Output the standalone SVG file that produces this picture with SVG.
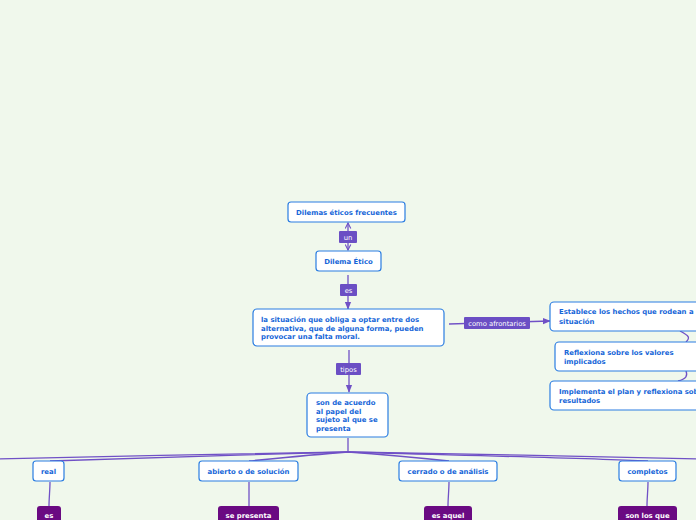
<svg xmlns="http://www.w3.org/2000/svg" width="696" height="520" viewBox="0 0 696 520">
<style>
.n{fill:#ffffff;stroke:#2a7de1;stroke-width:1.2}
.t{font-family:"DejaVu Sans",Verdana,sans-serif;font-size:6.9px;font-weight:bold;fill:#1565d8}
.lb{fill:#6b4fc4}
.lt{font-family:"DejaVu Sans",Verdana,sans-serif;font-size:6.8px;fill:#ffffff}
.p{fill:#6a0a82}
.pt{font-family:"DejaVu Sans",Verdana,sans-serif;font-size:6.9px;font-weight:bold;fill:#ffffff}
.c{fill:none;stroke:#7051c6;stroke-width:1.3}
</style>
<defs>
<marker id="a" viewBox="0 0 10 10" refX="9" refY="5" markerWidth="7" markerHeight="7" orient="auto-start-reverse" markerUnits="userSpaceOnUse">
<path d="M1,1 L9,5 L1,9" fill="none" stroke="#7051c6" stroke-width="1.6"/>
</marker>
<marker id="f" viewBox="0 0 10 10" refX="9" refY="5" markerWidth="8" markerHeight="8" orient="auto" markerUnits="userSpaceOnUse">
<path d="M0,1 L10,5 L0,9 Z" fill="#7051c6"/>
</marker>
</defs>
<rect width="696" height="520" fill="#f0f8ec"/>
<g id="connectors">
<path class="c" d="M348,250 L348,223" marker-start="url(#a)" marker-end="url(#a)"/>
<path class="c" d="M348,275 L348,309" marker-end="url(#f)"/>
<path class="c" d="M349,350 L349,392" marker-end="url(#f)"/>
<path class="c" d="M449,324 L550,321" marker-end="url(#f)"/>
<path class="c" d="M348,438 L348,452"/>
<path class="c" stroke-width="2" d="M348,452 C250,454 100,456 -5,459"/>
<path class="c" d="M348,452 C250,455 120,458 50,461"/>
<path class="c" d="M348,452 C310,455 280,458 249,461"/>
<path class="c" d="M348,452 C390,455 420,458 449,461"/>
<path class="c" d="M348,452 C450,455 580,458 648,461"/>
<path class="c" stroke-width="2" d="M348,452 C450,454 600,456 701,459"/>
<path class="c" d="M50,482 C50,490 49,498 49,506"/>
<path class="c" d="M249,482 L249,506"/>
<path class="c" d="M449,482 C449,490 448,498 448,506"/>
<path class="c" d="M648,482 C648,490 647,498 647,506"/>
<path class="c" d="M680,331 C690,336 690,338 686,342"/>
<path class="c" d="M686,371 C688,376 686,379 678,381"/>
</g>
<g id="lbl-un"><rect class="lb" x="339" y="231" width="18" height="12" rx="1"/><text class="lt" x="348" y="239.5" text-anchor="middle">un</text></g>
<g id="lbl-es"><rect class="lb" x="340" y="284" width="17" height="12" rx="1"/><text class="lt" x="348.5" y="292.5" text-anchor="middle">es</text></g>
<g id="lbl-tipos"><rect class="lb" x="336" y="363" width="25" height="12" rx="1"/><text class="lt" x="348.5" y="371.5" text-anchor="middle">tipos</text></g>
<g id="lbl-como"><rect class="lb" x="464" y="317" width="66" height="12" rx="1"/><text class="lt" x="497" y="325.5" text-anchor="middle">como afrontarios</text></g>
<g id="n-dilemas"><rect class="n" x="288" y="202" width="117" height="20" rx="3"/><text class="t" x="346.5" y="214.5" text-anchor="middle">Dilemas éticos frecuentes</text></g>
<g id="n-dilema"><rect class="n" x="316" y="251" width="65" height="20" rx="3"/><text class="t" x="348.5" y="263.5" text-anchor="middle">Dilema Ético</text></g>
<g id="n-situacion"><rect class="n" x="253" y="309" width="191" height="37" rx="4"/>
<text class="t" x="261" y="322">la situación que obliga a optar entre dos</text>
<text class="t" x="261" y="330.5">alternativa, que de alguna forma, pueden</text>
<text class="t" x="261" y="339">provocar una falta moral.</text></g>
<g id="n-tipos"><rect class="n" x="307" y="393" width="81" height="44" rx="4"/>
<text class="t" x="316" y="405">son de acuerdo</text>
<text class="t" x="316" y="413.5">al papel del</text>
<text class="t" x="316" y="422">sujeto al que se</text>
<text class="t" x="316" y="430.5">presenta</text></g>
<g id="n-establece"><rect class="n" x="550" y="302" width="152" height="29" rx="4"/>
<text class="t" x="559" y="314">Establece los hechos que rodean a</text>
<text class="t" x="559" y="323.5">situación</text></g>
<g id="n-reflexiona"><rect class="n" x="555" y="342" width="147" height="29" rx="4"/>
<text class="t" x="564" y="354.5">Reflexiona sobre los valores</text>
<text class="t" x="564" y="364">implicados</text></g>
<g id="n-implementa"><rect class="n" x="550" y="381" width="152" height="29" rx="4"/>
<text class="t" x="559" y="393.5">Implementa el plan y reflexiona sobre los</text>
<text class="t" x="559" y="403">resultados</text></g>
<g id="n-real"><rect class="n" x="33" y="461" width="31" height="20" rx="3"/><text class="t" x="48.5" y="473.5" text-anchor="middle">real</text></g>
<g id="n-abierto"><rect class="n" x="199" y="461" width="99" height="20" rx="3"/><text class="t" x="248.5" y="473.5" text-anchor="middle">abierto o de solución</text></g>
<g id="n-cerrado"><rect class="n" x="399" y="461" width="98" height="20" rx="3"/><text class="t" x="448" y="473.5" text-anchor="middle">cerrado o de análisis</text></g>
<g id="n-completos"><rect class="n" x="619" y="461" width="57" height="20" rx="3"/><text class="t" x="647.5" y="473.5" text-anchor="middle">completos</text></g>
<g id="n-es"><rect class="p" x="37" y="506" width="24" height="20" rx="3"/><text class="pt" x="49" y="518" text-anchor="middle">es</text></g>
<g id="n-sepresenta"><rect class="p" x="218" y="506" width="61" height="20" rx="3"/><text class="pt" x="248.5" y="518" text-anchor="middle">se presenta</text></g>
<g id="n-esaquel"><rect class="p" x="424" y="506" width="48" height="20" rx="3"/><text class="pt" x="448" y="518" text-anchor="middle">es aquel</text></g>
<g id="n-sonlosque"><rect class="p" x="618" y="506" width="59" height="20" rx="3"/><text class="pt" x="647.5" y="518" text-anchor="middle">son los que</text></g>
</svg>
